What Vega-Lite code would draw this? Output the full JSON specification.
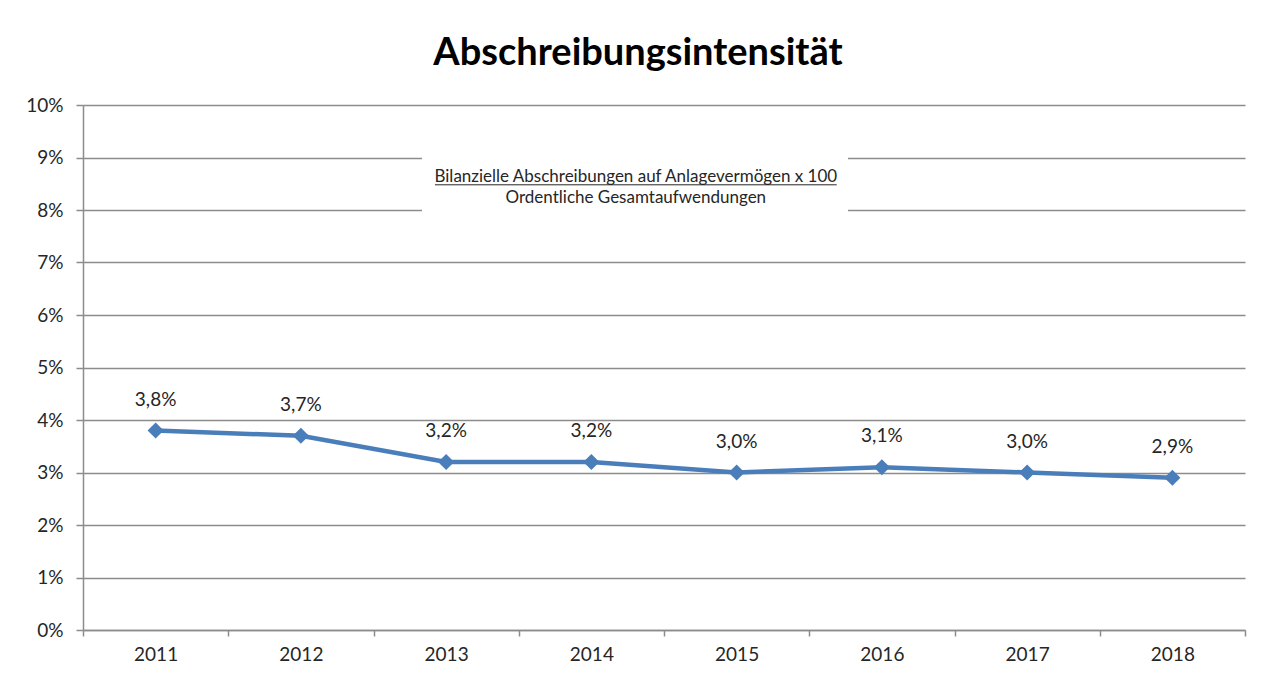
{
  "$schema": "https://vega.github.io/schema/vega-lite/v6.json",
  "autosize": "none",
  "width": 1162,
  "height": 525,
  "padding": {"left": 83, "top": 105, "right": 21, "bottom": 49},
  "background": "white",
  "config": {
    "view": {"stroke": null},
    "font": "Lato",
    "locale": {"number": {"decimal": ",", "thousands": ".", "grouping": [3], "currency": ["", " €"]}},
    "axis": {"labelFont": "Lato", "labelFontSize": 19, "labelColor": "#262626", "domainColor": "#8c8c8c", "tickColor": "#8c8c8c", "gridColor": "#8c8c8c", "domainWidth": 1.5, "tickWidth": 1.5, "gridWidth": 1.5}
  },
  "title": {"text": "Abschreibungsintensität", "font": "Lato", "fontSize": 38, "fontWeight": "bold", "color": "#000000", "anchor": "middle", "dx": -26, "offset": 23},
  "datasets": {
    "main": [
      {"Jahr": "2011", "Wert": 0.038},
      {"Jahr": "2012", "Wert": 0.037},
      {"Jahr": "2013", "Wert": 0.032},
      {"Jahr": "2014", "Wert": 0.032},
      {"Jahr": "2015", "Wert": 0.030},
      {"Jahr": "2016", "Wert": 0.031},
      {"Jahr": "2017", "Wert": 0.030},
      {"Jahr": "2018", "Wert": 0.029}
    ],
    "box": [{"x1": 2.334, "x2": 5.267, "y1": 0.0793, "y2": 0.0907}],
    "formel": [
      {"pos": 3.806, "y": 0.08533, "txt": "Bilanzielle Abschreibungen auf Anlagevermögen x 100"},
      {"pos": 3.806, "y": 0.08133, "txt": "Ordentliche Gesamtaufwendungen"}
    ],
    "strich": [{"x1": 2.423, "x2": 5.189, "y": 0.0848}]
  },
  "resolve": {"scale": {"x": "independent"}, "axis": {"x": "independent"}},
  "layer": [
    {
      "data": {"name": "main"},
      "layer": [
        {
          "mark": {"type": "line", "color": "#4a7ebb", "strokeWidth": 4.5},
          "encoding": {
            "x": {"field": "Jahr", "type": "ordinal", "title": null,
                  "axis": {"labelAngle": 0, "tickBand": "extent", "tickSize": 6, "labelPadding": 9, "grid": false}},
            "y": {"field": "Wert", "type": "quantitative", "title": null,
                  "scale": {"domain": [0, 0.1], "nice": false, "zero": true},
                  "axis": {"values": [0, 0.01, 0.02, 0.03, 0.04, 0.05, 0.06, 0.07, 0.08, 0.09, 0.1], "format": ".0%", "tickSize": 7, "labelPadding": 13, "grid": true}}
          }
        },
        {
          "mark": {"type": "point", "shape": "diamond", "filled": true, "color": "#4a7ebb", "size": 260, "opacity": 1},
          "encoding": {
            "x": {"field": "Jahr", "type": "ordinal"},
            "y": {"field": "Wert", "type": "quantitative"}
          }
        },
        {
          "mark": {"type": "text", "dy": -31, "baseline": "middle", "fontSize": 19, "font": "Lato", "color": "#262626"},
          "encoding": {
            "x": {"field": "Jahr", "type": "ordinal"},
            "y": {"field": "Wert", "type": "quantitative"},
            "text": {"field": "Wert", "type": "quantitative", "format": ".1%"}
          }
        }
      ]
    },
    {
      "data": {"name": "box"},
      "mark": {"type": "rect", "fill": "white", "stroke": null},
      "encoding": {
        "x": {"field": "x1", "type": "quantitative", "scale": {"domain": [0, 8], "nice": false, "zero": false}, "axis": null},
        "x2": {"field": "x2"},
        "y": {"field": "y1", "type": "quantitative"},
        "y2": {"field": "y2"}
      }
    },
    {
      "data": {"name": "formel"},
      "mark": {"type": "text", "fontSize": 17, "font": "Lato", "color": "#262626", "baseline": "alphabetic", "align": "center"},
      "encoding": {
        "x": {"field": "pos", "type": "quantitative", "scale": {"domain": [0, 8], "nice": false, "zero": false}, "axis": null},
        "y": {"field": "y", "type": "quantitative"},
        "text": {"field": "txt"}
      }
    },
    {
      "data": {"name": "strich"},
      "mark": {"type": "rule", "color": "#262626", "strokeWidth": 1},
      "encoding": {
        "x": {"field": "x1", "type": "quantitative", "scale": {"domain": [0, 8], "nice": false, "zero": false}, "axis": null},
        "x2": {"field": "x2"},
        "y": {"field": "y", "type": "quantitative"}
      }
    }
  ]
}
